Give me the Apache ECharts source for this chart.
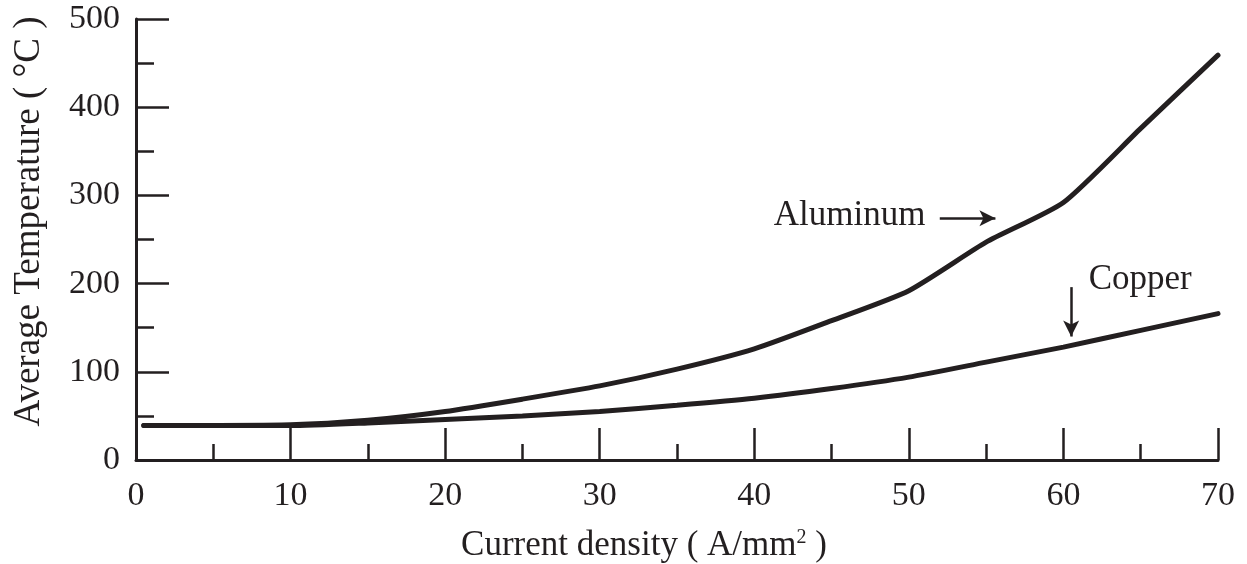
<!DOCTYPE html>
<html>
<head>
<meta charset="utf-8">
<script src="https://cdn.jsdelivr.net/npm/echarts@6/dist/echarts.min.js"></script>
<style>html,body{margin:0;padding:0;background:#fff}#c{width:1247px;height:564px}</style>
</head>
<body>
<div id="c"></div>
<script>
const currentDensity = [0.5, 10, 15, 20, 25, 30, 35, 40, 45, 50, 55, 60, 65, 70];
const aluminumTemp   = [39, 40, 45, 55, 69, 84, 103, 126, 158, 192, 247, 292, 376, 459];
const copperTemp     = [39, 39, 42, 46, 50, 55, 62, 70, 81, 94, 111, 128, 147, 166];
const xTicks = [0, 10, 20, 30, 40, 50, 60, 70];
const yTicks = [0, 100, 200, 300, 400, 500];

const ink = '#231f20';
const font = 'Liberation Serif';
const chart = echarts.init(document.getElementById('c'));
const pairs = (xs, ys) => xs.map((x, i) => [x, ys[i]]);
const noteLabel = (text, pos) => ({
  show: true, formatter: text, position: pos, distance: 0,
  fontFamily: font, fontSize: 35, color: ink
});

chart.setOption({
  animation: false,
  backgroundColor: '#fff',
  grid: { left: 136, right: 29, top: 19, bottom: 104, containLabel: false, outerBoundsMode: 'none' },
  xAxis: {
    type: 'value', min: xTicks[0], max: xTicks[xTicks.length - 1], interval: 10,
    name: 'Current density ( A/mm{sup|2} )',
    nameLocation: 'middle', nameGap: 68,
    nameTextStyle: { fontFamily: font, fontSize: 35, color: ink, padding: [0, 66, 0, 0],
      rich: { sup: { fontSize: 20, verticalAlign: 'top', padding: [0, 0, 16, 0], fontFamily: font, color: ink } } },
    axisLine: { lineStyle: { color: ink, width: 3 } },
    axisTick: { inside: true, length: 32, lineStyle: { color: ink, width: 2.5 } },
    minorTick: { show: true, splitNumber: 2, length: 16, lineStyle: { color: ink, width: 2.5 } },
    axisLabel: { fontFamily: font, fontSize: 34, color: ink, margin: 19 },
    splitLine: { show: false }
  },
  yAxis: {
    type: 'value', min: yTicks[0], max: yTicks[yTicks.length - 1], interval: 100,
    name: 'Average Temperature ( °C )',
    nameLocation: 'middle', nameGap: 88,
    nameTextStyle: { fontFamily: font, fontSize: 37, color: ink, padding: [0, 0, 0, 36] },
    axisLine: { lineStyle: { color: ink, width: 3 } },
    axisTick: { inside: true, length: 33, lineStyle: { color: ink, width: 2.5 } },
    minorTick: { show: true, splitNumber: 2, length: 18, lineStyle: { color: ink, width: 2.5 } },
    axisLabel: { fontFamily: font, fontSize: 34, color: ink, margin: 16 },
    splitLine: { show: false }
  },
  series: [
    {
      name: 'Aluminum', type: 'line', data: pairs(currentDensity, aluminumTemp),
      showSymbol: false, smooth: 0.2,
      lineStyle: { color: ink, width: 5, cap: 'round' },
      markLine: {
        silent: true, symbol: ['none', 'arrow'], symbolSize: [12, 16],
        lineStyle: { color: ink, width: 2.5, type: 'solid' },
        label: { show: false },
        data: [[{ coord: [52.0, 274] }, { coord: [55.6, 274] }]]
      },
      markPoint: {
        silent: true, symbol: 'circle', symbolSize: 1, itemStyle: { color: 'rgba(0,0,0,0)' },
        data: [{ coord: [51.1, 277], label: noteLabel('Aluminum', 'left') }]
      }
    },
    {
      name: 'Copper', type: 'line', data: pairs(currentDensity, copperTemp),
      showSymbol: false, smooth: 0.2,
      lineStyle: { color: ink, width: 5, cap: 'round' },
      markLine: {
        silent: true, symbol: ['none', 'arrow'], symbolSize: [12, 16],
        lineStyle: { color: ink, width: 2.5, type: 'solid' },
        label: { show: false },
        data: [[{ coord: [60.5, 196] }, { coord: [60.5, 140] }]]
      },
      markPoint: {
        silent: true, symbol: 'circle', symbolSize: 1, itemStyle: { color: 'rgba(0,0,0,0)' },
        data: [{ coord: [61.6, 204], label: noteLabel('Copper', 'right') }]
      }
    }
  ]
});
</script>
</body>
</html>
